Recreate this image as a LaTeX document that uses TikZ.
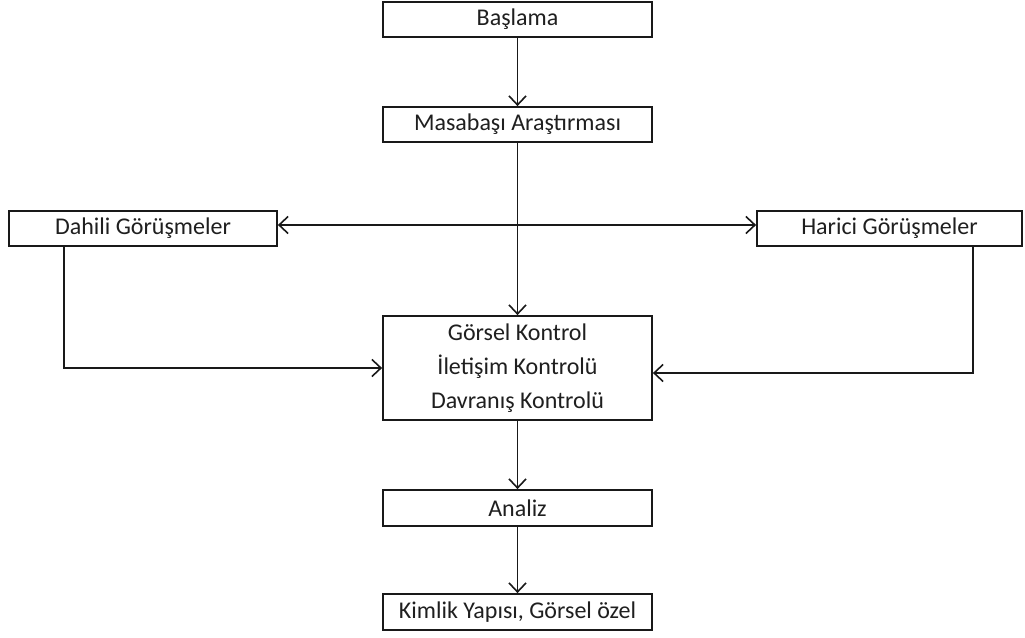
\documentclass[tikz,border=0pt]{standalone}
\usepackage{fontspec}
\setmainfont{Carlito}
\usetikzlibrary{arrows.meta}
\begin{document}
\begin{tikzpicture}[x=1pt,y=-1pt,
  every node/.style={font=\fontsize{24}{34}\selectfont, text=black!88},
  box/.style={draw=black!90, line width=1.8pt, fill=white, inner sep=0pt,
              minimum height=35pt, align=center},
  wide/.style={box, minimum width=269pt},
  tip/.tip={Straight Barb[length=9pt,width=17pt,line width=1.6pt]},
  link/.style={draw=black!90, line width=1.8pt, -tip}]
  \useasboundingbox (0,0) rectangle (1025,637);

  % main column
  \node[wide] (start) at (517.5,19.5) {Başlama};
  \node[wide] (desk)  at (517.5,124.5) {Masabaşı Araştırması};
  \node[wide, minimum height=104pt] (ctrl) at (517.5,368)
       {Görsel Kontrol\\İletişim Kontrolü\\Davranış Kontrolü};
  \node[wide, minimum height=36pt] (anl) at (517.5,508) {Analiz};
  \node[wide, minimum height=36pt] (kim) at (517.5,612) {Kimlik Yapısı, Görsel özel};

  % interview boxes
  \node[box, minimum width=268pt] (dah) at (143,228.5) {Dahili Görüşmeler};
  \node[box, minimum width=265pt] (har) at (889.5,228.5) {Harici Görüşmeler};

  % turning points of the side connectors
  \coordinate (dturn) at (64,368);
  \coordinate (hturn) at (973,373);

  \draw[link] (start) -- (desk);
  \draw[link] (desk.south) -- (ctrl.north);
  \draw[link, tip-tip] ([yshift=3.5pt]dah.east) -- ([yshift=3.5pt]har.west);
  \draw[link] (dah.south -| dturn) -- (dturn) -- (ctrl.west |- dturn);
  \draw[link] (har.south -| hturn) -- (hturn) -- (ctrl.east |- hturn);
  \draw[link] (ctrl) -- (anl);
  \draw[link] (anl) -- (kim);
\end{tikzpicture}
\end{document}
